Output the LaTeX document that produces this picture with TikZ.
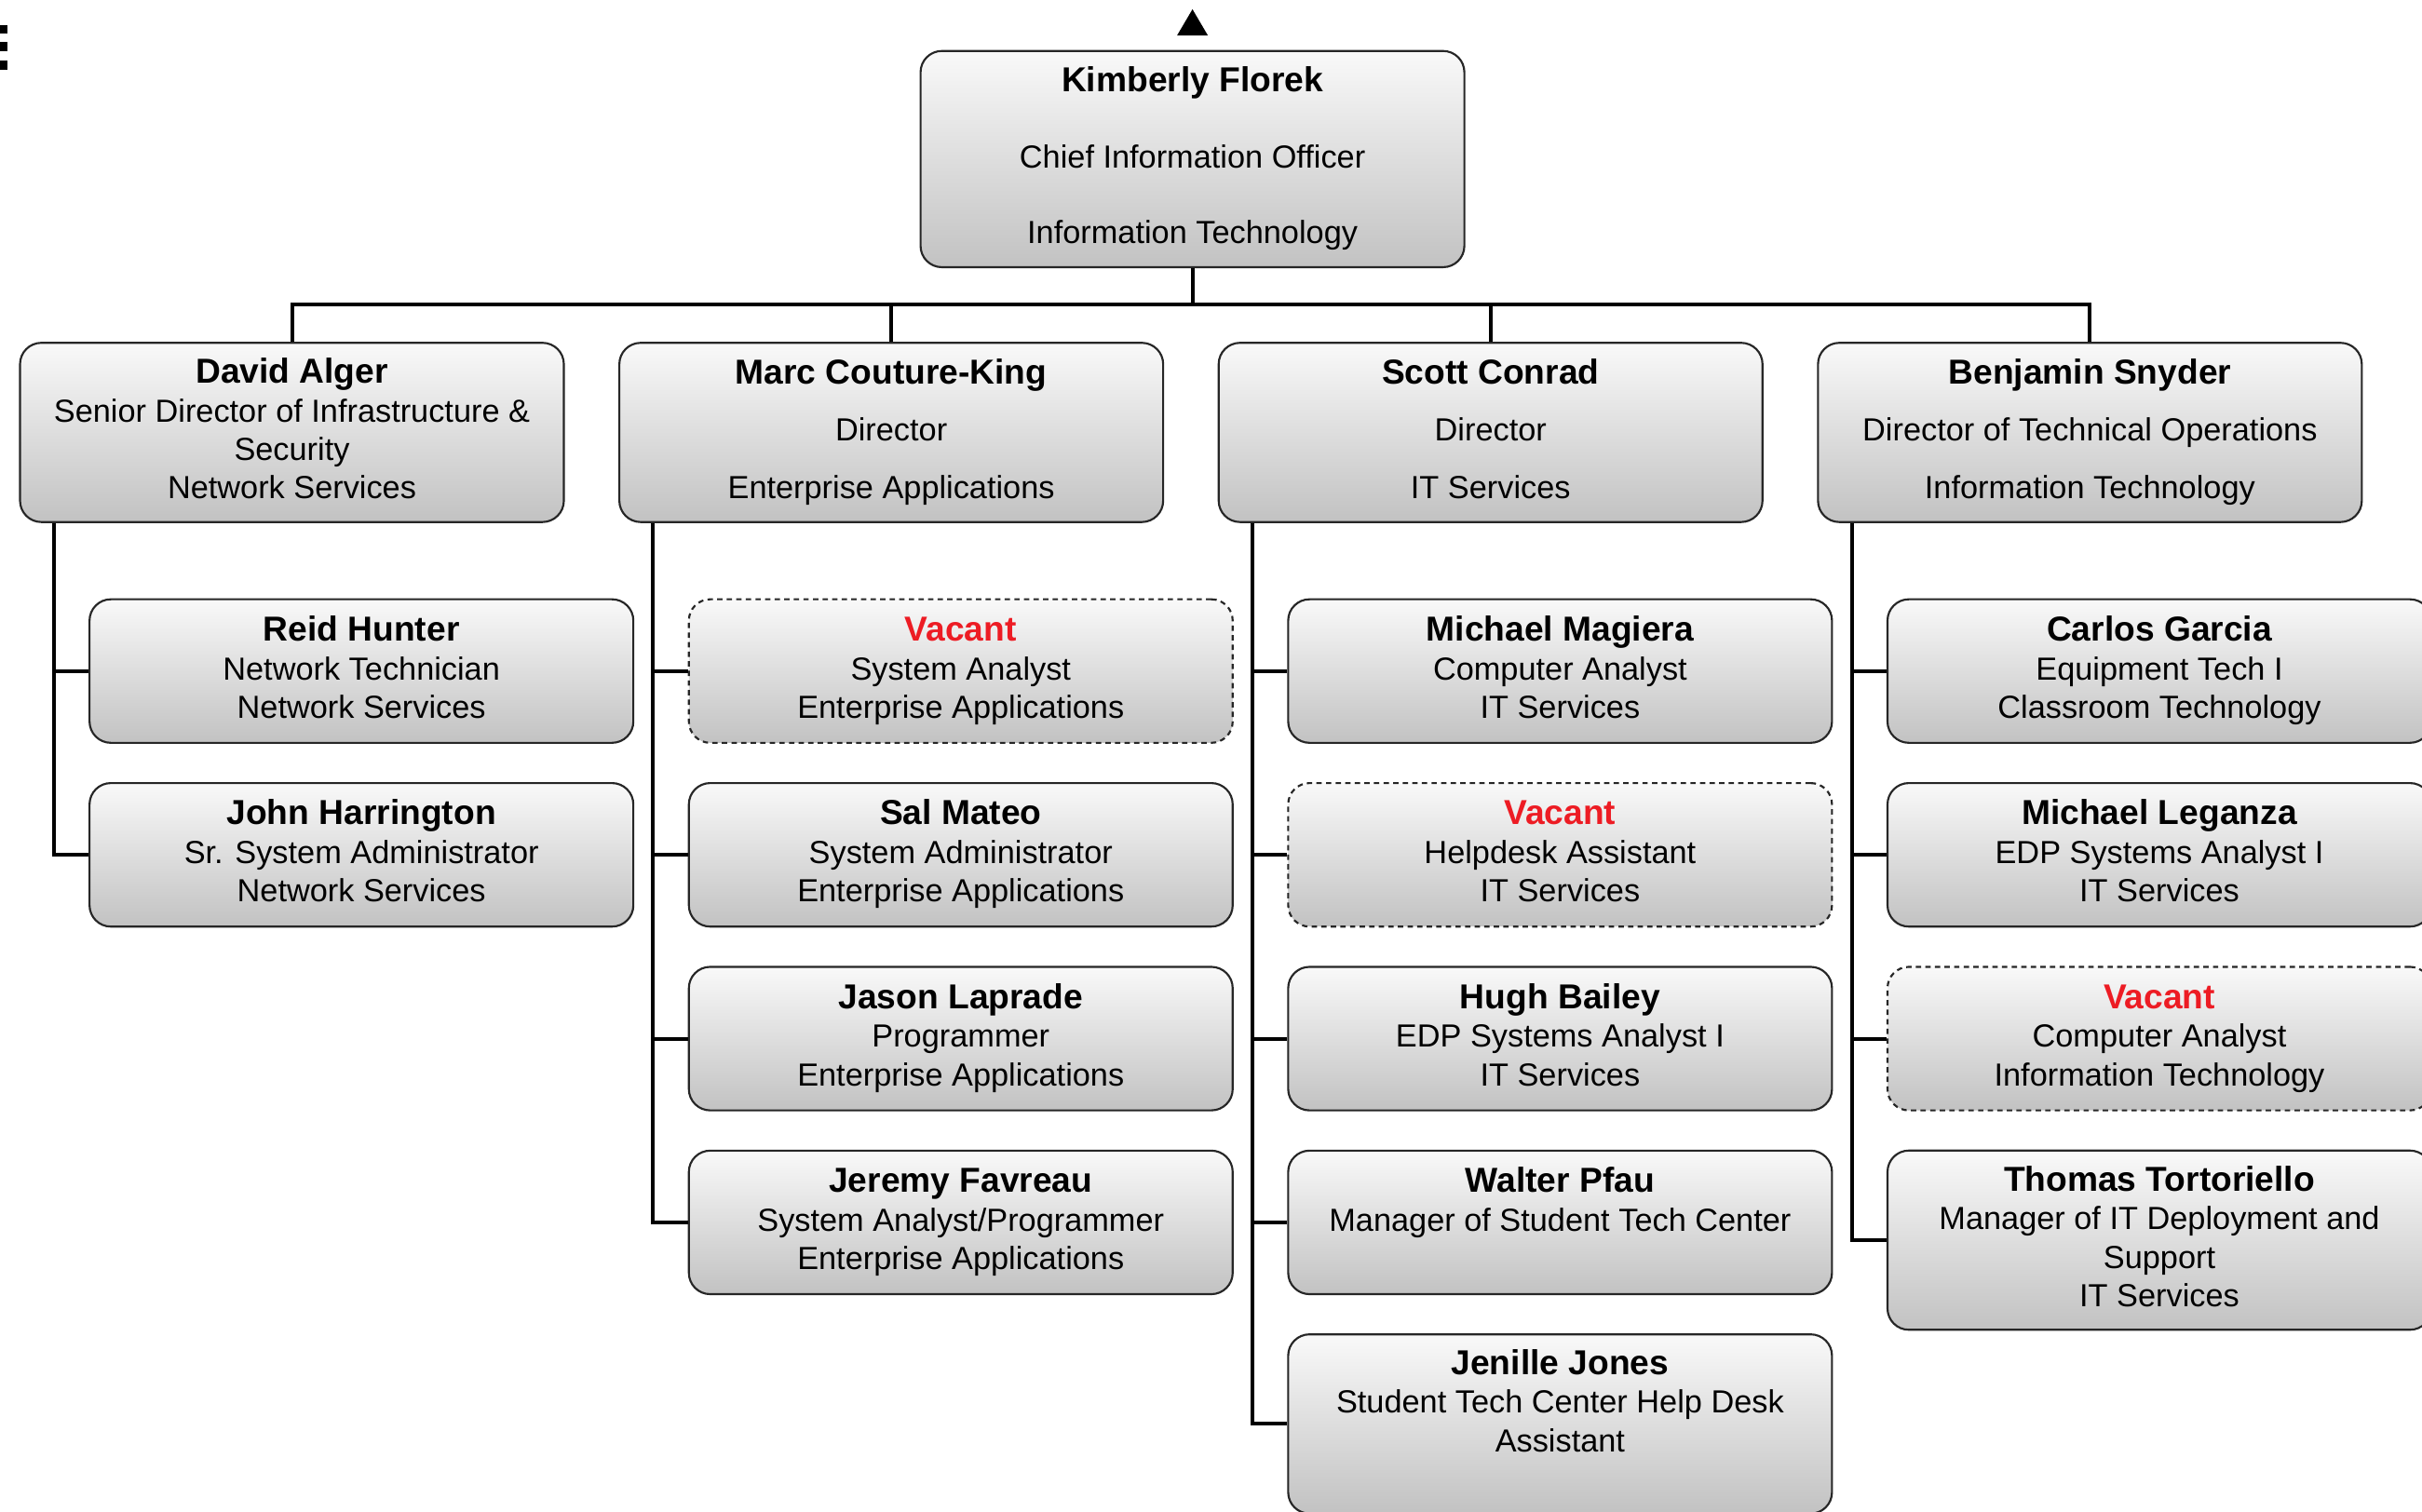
\documentclass[tikz,border=0pt]{standalone}
\usepackage{fontspec}
\setmainfont{Liberation Sans}
\definecolor{boxtop}{RGB}{249, 249, 249}
\definecolor{boxbottom}{RGB}{194, 194, 194}
\definecolor{vacantred}{RGB}{237, 28, 36}
\usetikzlibrary{positioning, calc}
\newcommand\person[1]{{\fontsize{13}{15.5}\selectfont\bfseries\strut #1}}
\newcommand\opening{{\fontsize{13}{15.5}\selectfont\bfseries\strut\color{vacantred}Vacant}}

\begin{document}
\begin{tikzpicture}[x=0.58pt, y=-0.58pt,
  card/.style={draw=black!85, line width=0.75pt, top color=boxtop, bottom color=boxbottom, rounded corners=8pt, align=center, minimum width=204.2pt, inner sep=0pt, font=\fontsize{12}{14.5}\selectfont, execute at end node=\strut},
  chief/.style={card, minimum height=81.2pt},
  lead/.style={card, minimum height=67.3pt},
  staff/.style={card, minimum height=53.9pt},
  tall/.style={card, minimum height=67.3pt},
  vacant/.style={dash pattern=on 2pt off 1.6pt},
  link/.style={line width=1.4pt, black}]
  \clip (0,0) rectangle (1568,979);

  % corner marks and up arrow
  \fill (0,16.3) rectangle (4.8,21.7);
  \fill (0,27.1) rectangle (4.8,33.2);
  \fill (0,39.2) rectangle (4.8,45.2);
  \fill (762,23) -- (772,6) -- (782,23) -- cycle;

  % CIO
  \node[chief] (florek) at (772,103) {\person{Kimberly Florek}\\[14pt] Chief Information Officer\\[14pt] Information Technology};

  % Directors
  \node[lead] (alger) at (189,280) {\person{David Alger}\\ Senior Director of Infrastructure \&\\ Security\\ Network Services};
  \node[lead] (couture) at (577,280) {\person{Marc Couture-King}\\[7pt] Director\\[7pt] Enterprise Applications};
  \node[lead] (conrad) at (965,280) {\person{Scott Conrad}\\[7pt] Director\\[7pt] IT Services};
  \node[lead] (snyder) at (1353,280) {\person{Benjamin Snyder}\\[7pt] Director of Technical Operations\\[7pt] Information Technology};

  \coordinate (bus) at (772,197);
  \draw[link] (florek.south) -- (bus);
  \draw[link] (alger.north) |- (bus);
  \draw[link] (couture.north) |- (bus);
  \draw[link] (conrad.north) |- (bus);
  \draw[link] (snyder.north) |- (bus);

  % Network Services
  \node[staff] (hunter) at (234,434.5) {\person{Reid Hunter}\\ Network Technician\\ Network Services};
  \node[staff] (harrington) at (234,553.5) {\person{John Harrington}\\ Sr. System Administrator\\ Network Services};

  % Enterprise Applications
  \node[staff, vacant] (sysanalyst) at (622,434.5) {\opening\\ System Analyst\\ Enterprise Applications};
  \node[staff] (mateo) at (622,553.5) {\person{Sal Mateo}\\ System Administrator\\ Enterprise Applications};
  \node[staff] (laprade) at (622,672.5) {\person{Jason Laprade}\\ Programmer\\ Enterprise Applications};
  \node[staff] (favreau) at (622,791.5) {\person{Jeremy Favreau}\\ System Analyst/Programmer\\ Enterprise Applications};

  % IT Services
  \node[staff] (magiera) at (1010,434.5) {\person{Michael Magiera}\\ Computer Analyst\\ IT Services};
  \node[staff, vacant] (helpdesk) at (1010,553.5) {\opening\\ Helpdesk Assistant\\ IT Services};
  \node[staff] (bailey) at (1010,672.5) {\person{Hugh Bailey}\\ EDP Systems Analyst I\\ IT Services};
  \node[staff] (pfau) at (1010,791.5) {\person{Walter Pfau}\\ Manager of Student Tech Center\\ };
  \node[tall] (jones) at (1010,922) {\person{Jenille Jones}\\ Student Tech Center Help Desk\\ Assistant\\ };

  % Technical Operations
  \node[staff] (garcia) at (1398,434.5) {\person{Carlos Garcia}\\ Equipment Tech I\\ Classroom Technology};
  \node[staff] (leganza) at (1398,553.5) {\person{Michael Leganza}\\ EDP Systems Analyst I\\ IT Services};
  \node[staff, vacant] (companalyst) at (1398,672.5) {\opening\\ Computer Analyst\\ Information Technology};
  \node[tall] (tortoriello) at (1398,803) {\person{Thomas Tortoriello}\\ Manager of IT Deployment and\\ Support\\ IT Services};

  % reporting lines
  \draw[link] ($(alger.south west)+(22.5,0)$) |- (hunter.west);
  \draw[link] ($(alger.south west)+(22.5,0)$) |- (harrington.west);
  \draw[link] ($(couture.south west)+(22.5,0)$) |- (sysanalyst.west);
  \draw[link] ($(couture.south west)+(22.5,0)$) |- (mateo.west);
  \draw[link] ($(couture.south west)+(22.5,0)$) |- (laprade.west);
  \draw[link] ($(couture.south west)+(22.5,0)$) |- (favreau.west);
  \draw[link] ($(conrad.south west)+(22.5,0)$) |- (magiera.west);
  \draw[link] ($(conrad.south west)+(22.5,0)$) |- (helpdesk.west);
  \draw[link] ($(conrad.south west)+(22.5,0)$) |- (bailey.west);
  \draw[link] ($(conrad.south west)+(22.5,0)$) |- (pfau.west);
  \draw[link] ($(conrad.south west)+(22.5,0)$) |- (jones.west);
  \draw[link] ($(snyder.south west)+(22.5,0)$) |- (garcia.west);
  \draw[link] ($(snyder.south west)+(22.5,0)$) |- (leganza.west);
  \draw[link] ($(snyder.south west)+(22.5,0)$) |- (companalyst.west);
  \draw[link] ($(snyder.south west)+(22.5,0)$) |- (tortoriello.west);
\end{tikzpicture}
\end{document}
